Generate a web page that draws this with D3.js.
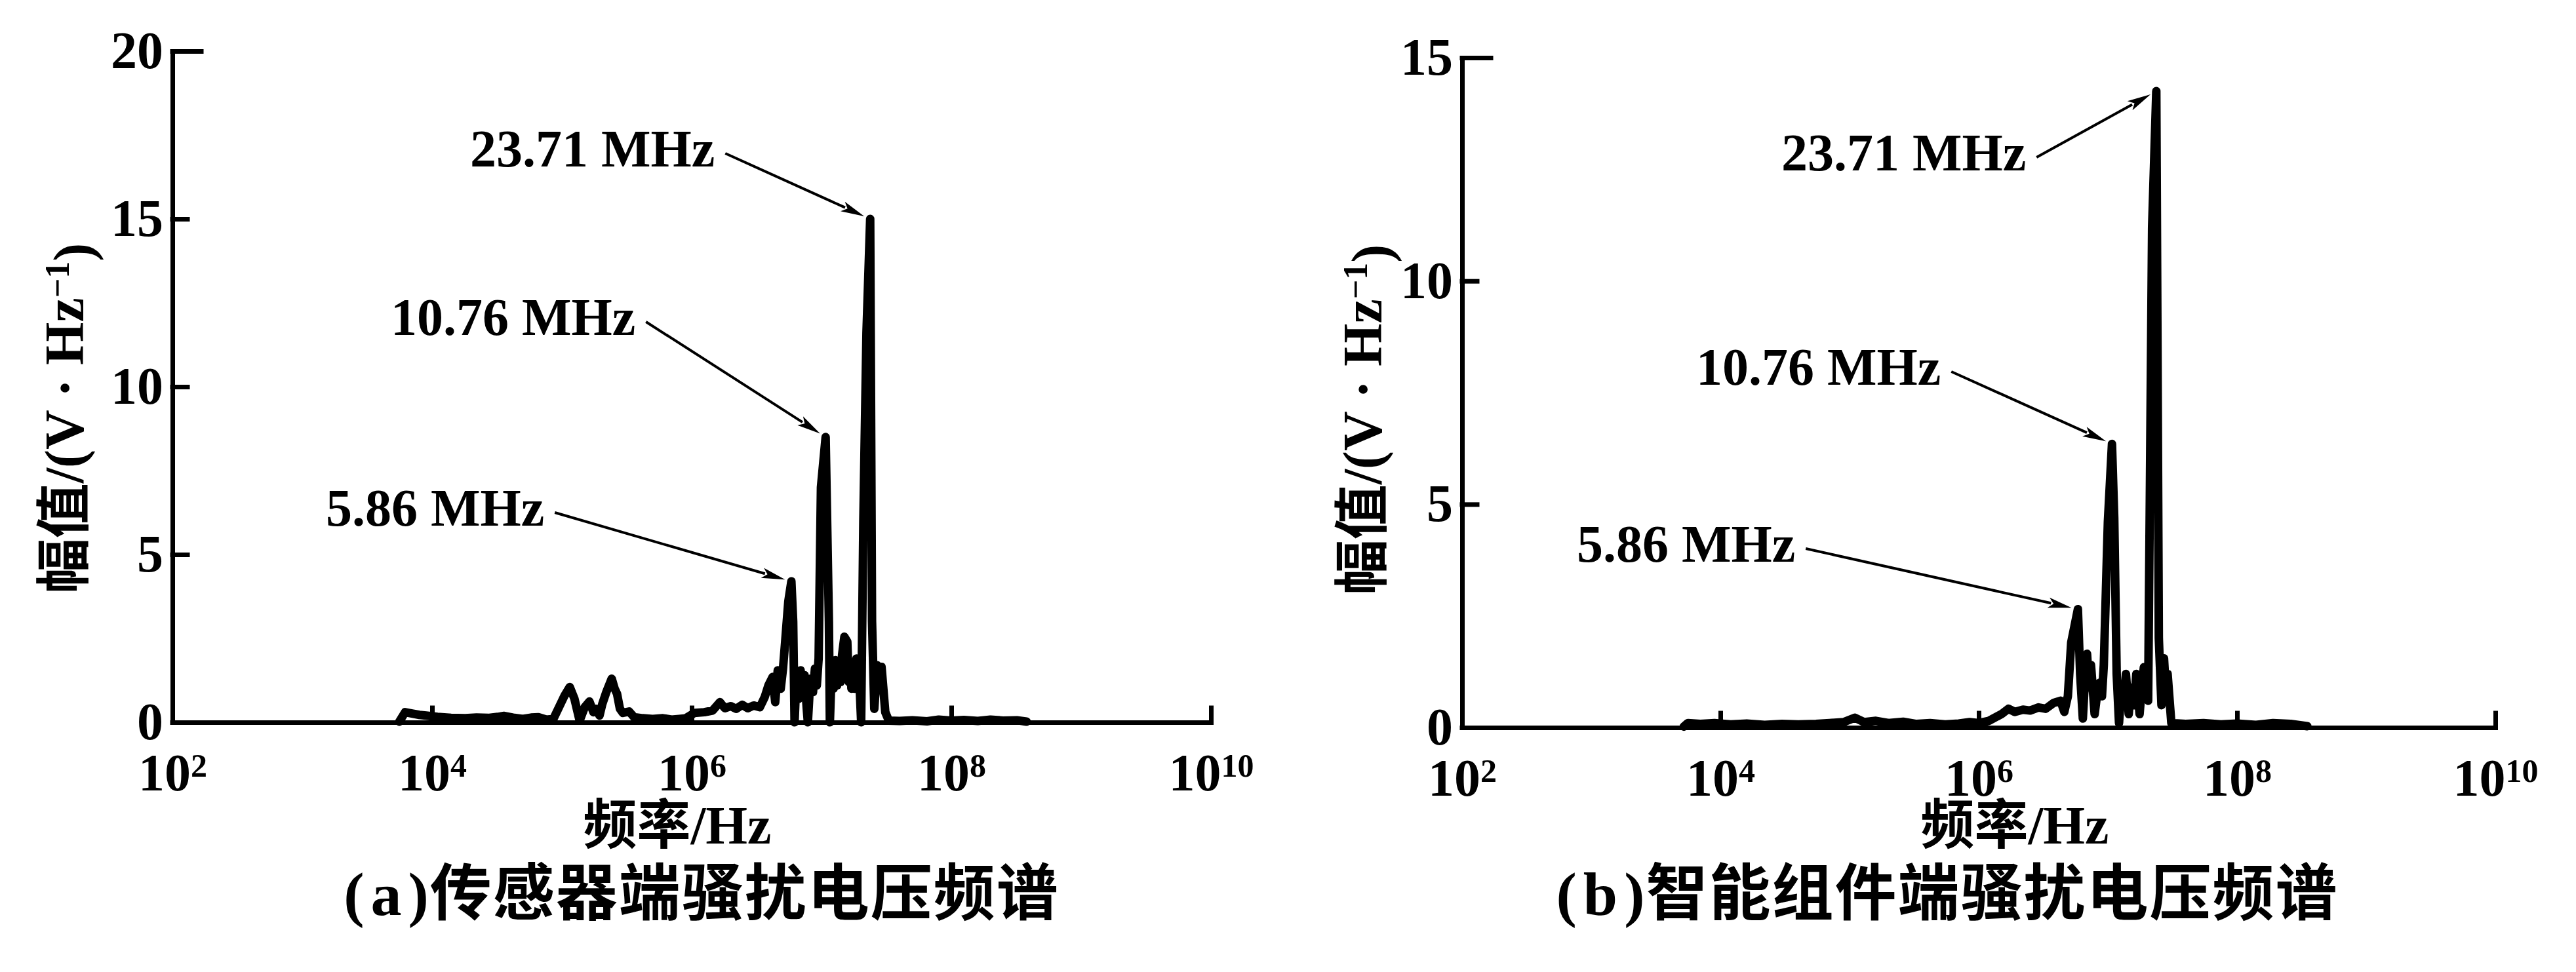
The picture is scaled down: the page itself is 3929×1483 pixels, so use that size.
<!DOCTYPE html>
<html>
<head>
<meta charset="utf-8">
<script src="https://cdn.jsdelivr.net/npm/d3@7"></script>
<style>
body{margin:0;background:#fff;}
text{font-family:"Liberation Serif","Noto Sans CJK SC",serif;font-weight:bold;fill:#000;}
</style>
</head>
<body>
<script>
// (a) sensor side spectrum, Hz / amplitude
var freqA = [5.6e3, 6.2e3, 7.0e3, 8.0e3, 9.0e3, 1.1e4, 1.4e4, 1.8e4, 2.2e4, 2.7e4,
	3.2e4, 3.6e4, 4.2e4, 5.0e4, 5.8e4, 6.6e4, 7.6e4, 8.6e4, 9.5e4, 1.05e5,
	1.15e5, 1.25e5, 1.37e5, 1.5e5, 1.63e5, 1.75e5, 1.83e5, 1.95e5, 2.05e5, 2.2e5,
	2.42e5, 2.55e5, 2.66e5, 2.8e5, 2.95e5, 3.3e5, 3.6e5, 4.2e5, 5.0e5, 6.0e5,
	7.0e5, 8.0e5, 9.0e5, 1.05e6, 1.25e6, 1.45e6, 1.65e6, 1.8e6, 2.0e6, 2.2e6,
	2.45e6, 2.7e6, 3.0e6, 3.35e6, 3.65e6, 3.9e6, 4.2e6, 4.4e6, 4.6e6, 4.85e6,
	5.05e6, 5.25e6, 5.55e6, 5.86e6, 6.05e6, 6.2e6, 6.4e6, 6.65e6, 6.9e6, 7.15e6,
	7.4e6, 7.7e6, 7.85e6, 8.2e6, 8.6e6, 8.9e6, 9.2e6, 9.5e6, 9.9e6, 1.076e7,
	1.1e7, 1.14e7, 1.16e7, 1.2e7, 1.24e7, 1.28e7, 1.32e7, 1.36e7, 1.4e7, 1.44e7,
	1.5e7, 1.58e7, 1.62e7, 1.66e7, 1.7e7, 1.75e7, 1.8e7, 1.86e7, 1.96e7, 2.02e7,
	2.1e7, 2.22e7, 2.371e7, 2.45e7, 2.55e7, 2.68e7, 2.8e7, 2.9e7, 3.1e7, 3.3e7,
	4.0e7, 5.0e7, 6.5e7, 8.0e7, 1.0e8, 1.25e8, 1.6e8, 2.0e8, 2.5e8, 3.2e8,
	3.8e8];
var ampA = [0.02, 0.30, 0.26, 0.22, 0.20, 0.16, 0.13, 0.12, 0.14, 0.13,
	0.16, 0.19, 0.14, 0.10, 0.14, 0.15, 0.08, 0.10, 0.45, 0.80,
	1.05, 0.70, 0.05, 0.45, 0.62, 0.30, 0.40, 0.20, 0.55, 0.90,
	1.30, 1.00, 0.85, 0.40, 0.28, 0.32, 0.15, 0.12, 0.10, 0.12,
	0.08, 0.10, 0.12, 0.28, 0.30, 0.35, 0.60, 0.42, 0.48, 0.40,
	0.52, 0.42, 0.50, 0.45, 0.75, 1.10, 1.35, 0.60, 1.55, 1.00,
	1.60, 2.40, 3.60, 4.20, 3.00, 0.00, 1.30, 0.70, 1.55, 0.80,
	1.40, 0.40, 0.00, 1.30, 0.90, 1.60, 1.10, 1.90, 7.00, 8.50,
	6.40, 3.00, 0.00, 1.70, 1.00, 1.85, 1.10, 1.60, 1.20, 2.00,
	2.55, 2.40, 1.20, 1.80, 1.00, 1.70, 1.00, 1.90, 1.20, 0.00,
	6.00, 11.60, 15.00, 3.00, 0.40, 1.70, 1.00, 1.65, 0.30, 0.05,
	0.04, 0.06, 0.03, 0.08, 0.05, 0.07, 0.04, 0.08, 0.05, 0.06,
	0.02];

// (b) smart component side spectrum
var freqB = [5.2e3, 5.6e3, 7.0e3, 9.0e3, 1.2e4, 1.6e4, 2.2e4, 3.0e4, 4.0e4, 5.5e4,
	7.0e4, 9.0e4, 1.1e5, 1.3e5, 1.6e5, 2.0e5, 2.6e5, 3.3e5, 4.2e5, 5.5e5,
	7.0e5, 8.5e5, 1.0e6, 1.2e6, 1.5e6, 1.7e6, 1.9e6, 2.2e6, 2.5e6, 2.9e6,
	3.3e6, 3.8e6, 4.3e6, 4.6e6, 4.9e6, 5.2e6, 5.86e6, 6.1e6, 6.4e6, 6.65e6,
	6.9e6, 7.15e6, 7.4e6, 7.9e6, 8.3e6, 8.6e6, 9.0e6, 9.3e6, 1.0e7, 1.076e7,
	1.12e7, 1.17e7, 1.22e7, 1.26e7, 1.3e7, 1.34e7, 1.38e7, 1.45e7, 1.5e7, 1.55e7,
	1.6e7, 1.66e7, 1.76e7, 1.83e7, 1.9e7, 2.05e7, 2.2e7, 2.371e7, 2.48e7, 2.6e7,
	2.72e7, 2.8e7, 2.9e7, 3.1e7, 4.0e7, 5.5e7, 7.5e7, 1.0e8, 1.4e8, 1.9e8,
	2.6e8, 3.5e8];
var ampB = [0.02, 0.10, 0.08, 0.10, 0.07, 0.09, 0.06, 0.08, 0.07, 0.08,
	0.10, 0.12, 0.22, 0.12, 0.15, 0.10, 0.13, 0.08, 0.10, 0.07,
	0.09, 0.12, 0.10, 0.15, 0.30, 0.42, 0.35, 0.40, 0.38, 0.45,
	0.42, 0.55, 0.60, 0.35, 0.70, 1.90, 2.65, 1.20, 0.20, 1.10,
	1.65, 0.90, 1.40, 0.30, 0.80, 1.00, 0.70, 1.40, 4.60, 6.35,
	4.70, 1.20, 0.10, 0.70, 0.90, 0.60, 1.20, 0.30, 0.80, 0.90,
	0.50, 1.20, 0.30, 0.90, 1.35, 0.60, 11.20, 14.25, 2.00, 0.50,
	1.55, 0.90, 1.20, 0.10, 0.08, 0.10, 0.07, 0.09, 0.06, 0.10,
	0.08, 0.03];

var xTickExp = [2, 4, 6, 8, 10];
var yTicksA = [0, 5, 10, 15, 20];
var yTicksB = [0, 5, 10, 15];

var peakFreq = [5.86e6, 10.76e6, 23.71e6];
var peakLabels = ["5.86 MHz", "10.76 MHz", "23.71 MHz"];
var peakAmpA = [4.2, 8.5, 15.0];
var peakAmpB = [2.65, 6.35, 14.25];

var titleA = ["(", "a", ")传感器端骚扰电压频谱"];
var titleB = ["(", "b", ")智能组件端骚扰电压频谱"];
var xTitle = "频率/Hz";

var width = 3929;
var height = 1483;

var svg = d3.select("body")
	.append("svg")
	.attr("width", width)
	.attr("height", height);

function drawPanel(p){
	var x = d3.scaleLog().domain([1e2, 1e10]).range([p.left, p.right]);
	var y = d3.scaleLinear().domain([0, p.yMax]).range([p.base, p.top]);
	var g = svg.append("g");

	// spectrum line, drawn heavy like the printed figure
	var pts = d3.zip(p.freq, p.amp);
	g.append("path")
		.datum(pts)
		.attr("d", d3.line().x(function(d){return x(d[0])}).y(function(d){return y(d[1])}))
		.attr("fill", "none")
		.attr("stroke", "#000")
		.attr("stroke-width", 13)
		.attr("stroke-linejoin", "round")
		.attr("stroke-linecap", "round");

	// x axis, ticks pointing inward
	var xAxis = d3.axisBottom(x)
		.tickValues(xTickExp.map(function(e){return Math.pow(10, e)}))
		.tickSizeInner(-22)
		.tickSizeOuter(0)
		.tickPadding(47);
	var gx = g.append("g")
		.attr("transform", "translate(0," + p.base + ")")
		.call(xAxis);
	gx.selectAll("text").each(function(d, i){
		var t = d3.select(this).text("");
		t.append("tspan").text("10");
		t.append("tspan").attr("dy", "-0.42em").attr("font-size", 50).text(xTickExp[i]);
	});

	// y axis
	var yAxis = d3.axisLeft(y)
		.tickValues(p.yTicks)
		.tickSizeInner(-23)
		.tickSizeOuter(0)
		.tickPadding(14);
	var gy = g.append("g")
		.attr("transform", "translate(" + p.left + ",0)")
		.call(yAxis);
	gy.selectAll(".tick line").filter(function(d){return d === p.yMax}).attr("x2", 44);

	g.selectAll(".domain, .tick line")
		.attr("stroke", "#000")
		.attr("stroke-width", 7)
		.attr("stroke-linecap", "square");
	g.selectAll(".tick text")
		.attr("font-family", "Liberation Serif")
		.attr("font-weight", "bold")
		.attr("font-size", 80)
		.attr("fill", "#000");
	gx.attr("font-family", null);
	gy.attr("font-family", null);

	// peak annotations
	peakFreq.forEach(function(f, i){
		var lab = g.append("text")
			.attr("x", p.labels[i][0])
			.attr("y", p.labels[i][1])
			.attr("font-size", 80)
			.text(peakLabels[i]);
		var len = lab.node().getComputedTextLength();
		var sx = p.labels[i][0] + len + 16;
		var sy = p.labels[i][1] - 20;
		var px = x(f), py = y(p.peakAmp[i]);
		var dx = px - sx, dy = py - sy;
		var L = Math.sqrt(dx*dx + dy*dy);
		var ux = dx / L, uy = dy / L;
		var tx = px - ux*10, ty = py - uy*10;
		var bx = tx - ux*36, by = ty - uy*36;
		g.append("line")
			.attr("x1", sx).attr("y1", sy)
			.attr("x2", bx + ux*4).attr("y2", by + uy*4)
			.attr("stroke", "#000")
			.attr("stroke-width", 4);
		g.append("path")
			.attr("d", "M" + tx + "," + ty +
				"L" + (bx - uy*8) + "," + (by + ux*8) +
				"L" + (bx + ux*8) + "," + (by + uy*8) +
				"L" + (bx + uy*8) + "," + (by - ux*8) + "Z")
			.attr("fill", "#000");
	});

	// y title
	var yt = g.append("text")
		.attr("transform", "translate(" + p.yTitle[0] + "," + p.yTitle[1] + ") rotate(-90)")
		.attr("text-anchor", "middle")
		.attr("font-size", 84);
	yt.append("tspan").text("幅值/(V · Hz");
	yt.append("tspan").attr("dy", "-0.42em").attr("font-size", 52).text("−1");
	yt.append("tspan").attr("dy", "0.42em").text(")");

	// x title
	g.append("text")
		.attr("x", p.xTitle[0])
		.attr("y", p.xTitle[1])
		.attr("text-anchor", "middle")
		.attr("font-size", 82)
		.text(xTitle);

	// caption
	var cap = g.append("text")
		.attr("x", p.caption[0])
		.attr("y", p.caption[1])
		.attr("text-anchor", "middle")
		.attr("font-size", 94)
		.attr("letter-spacing", 2);
	cap.append("tspan").text(p.title[0]);
	cap.append("tspan").attr("dx", 8).text(p.title[1]);
	cap.append("tspan").attr("dx", 8).text(p.title[2]);
}

drawPanel({
	left: 263, right: 1847, base: 1102, top: 78, yMax: 20,
	yTicks: yTicksA, freq: freqA, amp: ampA, peakAmp: peakAmpA,
	labels: [[497, 802], [596, 511], [717, 254]],
	yTitle: [127, 638], xTitle: [1033, 1287], caption: [1070, 1396],
	title: titleA
});

drawPanel({
	left: 2230, right: 3806, base: 1110, top: 88, yMax: 15,
	yTicks: yTicksB, freq: freqB, amp: ampB, peakAmp: peakAmpB,
	labels: [[2405, 857], [2587, 587], [2717, 260]],
	yTitle: [2107, 640], xTitle: [3073, 1287], caption: [2970, 1396],
	title: titleB
});
</script>
</body>
</html>
